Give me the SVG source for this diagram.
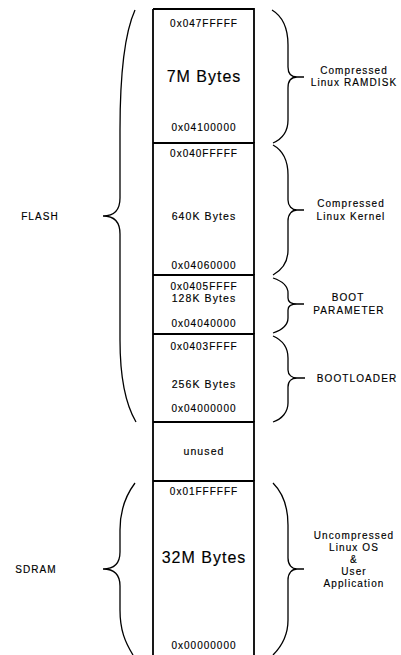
<svg xmlns="http://www.w3.org/2000/svg" width="401" height="655" viewBox="0 0 401 655">
<style>
.box{fill:none;stroke:#000;stroke-width:1.8}
.br{fill:none;stroke:#000;stroke-width:1.3}
text{font-family:"Liberation Sans",Arial,sans-serif;fill:#000;text-anchor:middle;stroke:#000;stroke-width:0.15}
.hex{font-size:10px;letter-spacing:1px}
.sz{font-size:10.5px;letter-spacing:1.1px}
.big{font-size:16px;letter-spacing:1px}
.lbl{font-size:10px;letter-spacing:1.1px}
</style>
<rect width="401" height="655" fill="#fff"/>
<g id="memmap">
<g id="ramdisk">
<path class="box" d="M153,9 H254 V143 M153,9 V143"/>
<text class="hex" x="204" y="27">0x047FFFFF</text>
<text class="big" x="204" y="82">7M Bytes</text>
<text class="hex" x="204" y="131">0x04100000</text>
</g>
<g id="kernel">
<path class="box" d="M153,143 H254 V275 M153,143 V275"/>
<text class="hex" x="204" y="157">0x040FFFFF</text>
<text class="sz" x="204" y="220">640K Bytes</text>
<text class="hex" x="204" y="269">0x04060000</text>
</g>
<g id="bootparam">
<path class="box" d="M153,275 H254 V334 M153,275 V334"/>
<text class="hex" x="204" y="290">0x0405FFFF</text>
<text class="sz" x="204" y="302">128K Bytes</text>
<text class="hex" x="204" y="327">0x04040000</text>
</g>
<g id="bootloader">
<path class="box" d="M153,334 H254 V422 M153,334 V422"/>
<text class="hex" x="204" y="350">0x0403FFFF</text>
<text class="sz" x="204" y="388">256K Bytes</text>
<text class="hex" x="204" y="412">0x04000000</text>
</g>
<g id="unused">
<path class="box" d="M153,422 H254 V481 M153,422 V481"/>
<text class="sz" x="204" y="455">unused</text>
</g>
<g id="sdram">
<path class="box" d="M153,481 H254 V655 M153,481 V655"/>
<text class="hex" x="204" y="495">0x01FFFFFF</text>
<text class="big" x="204" y="563">32M Bytes</text>
<text class="hex" x="204" y="649">0x00000000</text>
</g>
</g>
<g id="braces">
<path class="br" d="M135,10 C126,30 120,70 120,130 L120,198 C120,210 114,216 103,216 C114,216 120,222 120,234 L120,340 C120,380 126,405 136,422"/>
<path class="br" d="M135,483 C126,495 120,510 120,530 L120,552 C120,563 114,569 103,569 C114,569 120,575 120,586 L120,610 C120,630 125,642 133,655"/>
<path class="br" d="M272,10 C282,16 288,26 288,45 L288,67 C288,74 292,77 297,77 L304,77 M297,77 C292,77 288,80 288,88 L288,120 C288,132 282,139 273,143"/>
<path class="br" d="M273,145 C282,150 288,160 288,175 L288,200 C288,206 292,210 297,210 L304,210 M297,210 C292,210 288,214 288,221 L288,250 C288,262 282,270 273,275"/>
<path class="br" d="M273,278 C282,281 288,286 288,293 L288,298 C288,302 292,304 297,304 L304,304 M297,304 C292,304 288,306 288,310 L288,318 C288,325 282,330 273,333"/>
<path class="br" d="M273,336 C282,340 288,347 288,358 L288,370 C288,375 292,378 297,378 L305,378 M297,378 C292,378 288,381 288,387 L288,403 C288,412 282,419 273,422"/>
<path class="br" d="M273,483 C282,492 288,505 288,525 L288,558 C288,565 292,569 297,569 L304,569 M297,569 C292,569 288,573 288,580 L288,620 C288,635 282,646 273,655"/>
</g>
<g id="labels">
<text class="lbl" x="40" y="220">FLASH</text>
<text class="lbl" x="36" y="573">SDRAM</text>
<text class="lbl" x="354" y="74">Compressed</text>
<text class="lbl" x="354" y="86">Linux RAMDISK</text>
<text class="lbl" x="351" y="207">Compressed</text>
<text class="lbl" x="351" y="220">Linux Kernel</text>
<text class="lbl" x="348" y="301">BOOT</text>
<text class="lbl" x="349" y="314">PARAMETER</text>
<text class="lbl" x="357" y="382">BOOTLOADER</text>
<text class="lbl" x="354" y="539">Uncompressed</text>
<text class="lbl" x="354" y="551">Linux OS</text>
<text class="lbl" x="354" y="563">&amp;</text>
<text class="lbl" x="354" y="575">User</text>
<text class="lbl" x="354" y="587">Application</text>
</g>
</svg>
